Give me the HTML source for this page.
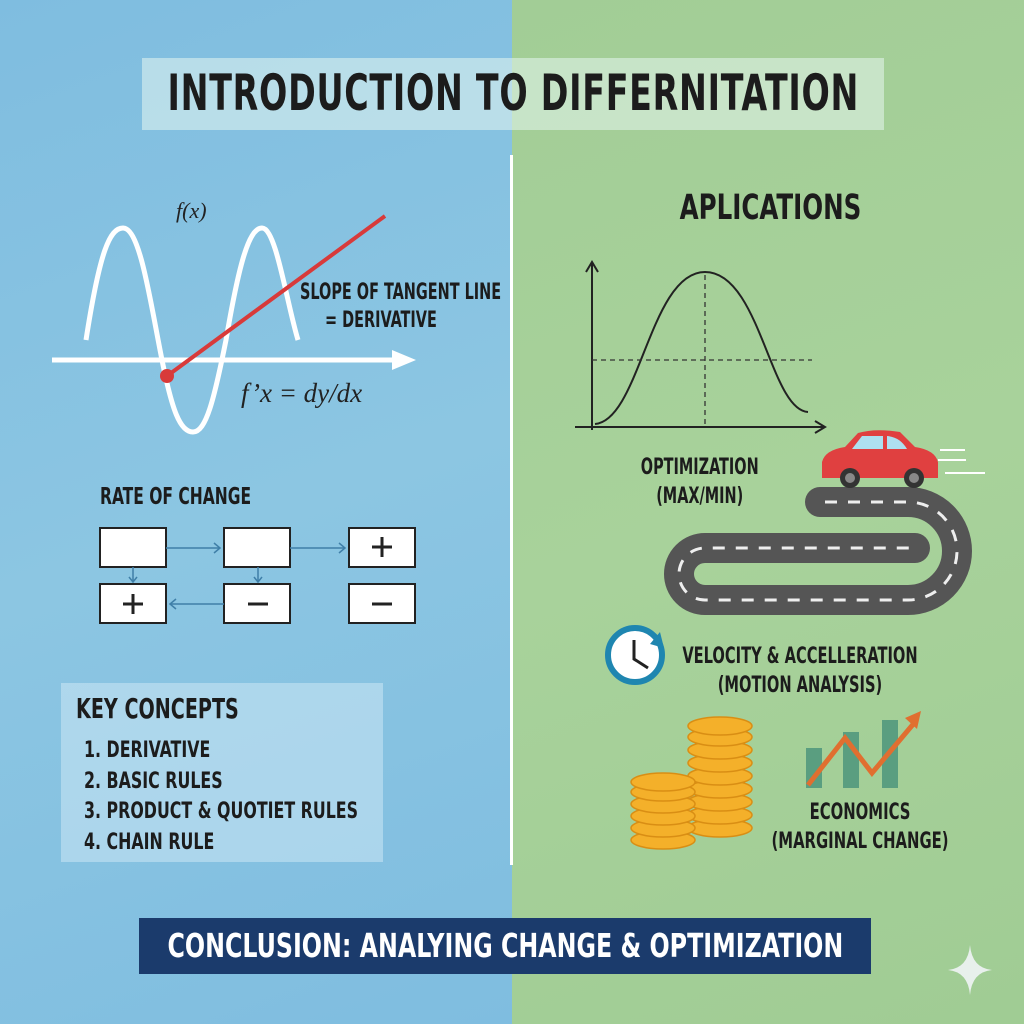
<!DOCTYPE html>
<html><head><meta charset="utf-8"><style>
body{margin:0;width:1024px;height:1024px;overflow:hidden;position:relative;font-family:"DejaVu Sans Condensed","DejaVu Sans",sans-serif;}
.t{position:absolute;font-weight:bold;color:#1c1c1c;white-space:nowrap;}
.s{display:inline-block;transform:scaleX(0.75);transform-origin:left center;}
.c{display:inline-block;transform:scaleX(0.75);transform-origin:center center;}
</style></head><body>
<div style="position:absolute;left:0;top:0;width:512px;height:1024px;background:linear-gradient(160deg,#7fbde0,#8cc6e2 50%,#7fbde0)"></div>
<div style="position:absolute;left:512px;top:0;width:512px;height:1024px;background:linear-gradient(160deg,#a2cd96,#a8d29b 50%,#a0cc94)"></div>
<div style="position:absolute;left:142px;top:58px;width:742px;height:72px;background:rgba(230,245,240,0.55)"></div>
<div class="t" style="left:-87px;top:64px;width:1200px;text-align:center;font-size:50px;letter-spacing:1px"><span class="c" style="transform:scaleX(0.74)">INTRODUCTION TO DIFFERNITATION</span></div>
<div style="position:absolute;left:510px;top:155px;width:3px;height:710px;background:#fff"></div>
<svg width="1024" height="1024" style="position:absolute;left:0;top:0">
<path d="M86 340 C100 250,110 228,123 228 C140 228,150 300,162 360 C172 410,180 432,193 432 C206 432,214 400,226 340 C238 270,248 228,262 228 C276 228,286 300,298 340" fill="none" stroke="#fff" stroke-width="5"/>
<line x1="52" y1="360" x2="395" y2="360" stroke="#fff" stroke-width="5"/>
<polygon points="392,350 416,360 392,370" fill="#fff"/>
<line x1="167" y1="376" x2="385" y2="216" stroke="#d83a3a" stroke-width="4"/>
<circle cx="167" cy="376" r="7" fill="#d83a3a"/>
<g fill="#fff" stroke="#222" stroke-width="2">
<rect x="100" y="528" width="66" height="39"/><rect x="224" y="528" width="66" height="39"/><rect x="349" y="528" width="66" height="39"/>
<rect x="100" y="584" width="66" height="39"/><rect x="224" y="584" width="66" height="39"/><rect x="349" y="584" width="66" height="39"/>
</g>
<g stroke="#222" stroke-width="3"><line x1="382" y1="537" x2="382" y2="557"/><line x1="372" y1="547" x2="392" y2="547"/>
<line x1="133" y1="594" x2="133" y2="614"/><line x1="123" y1="604" x2="143" y2="604"/>
<line x1="248" y1="604" x2="268" y2="604"/><line x1="372" y1="604" x2="392" y2="604"/></g>
<g stroke="#3f7fa8" stroke-width="1.5" fill="none">
<path d="M166 548 H220 M214 543 L220 548 L214 553"/><path d="M290 548 H345 M339 543 L345 548 L339 553"/>
<path d="M133 567 V582 M129 577 L133 582 L137 577"/><path d="M258 567 V582 M254 577 L258 582 L262 577"/>
<path d="M224 604 H170 M176 599 L170 604 L176 609"/></g>
<rect x="61" y="683" width="322" height="179" fill="rgba(220,240,250,0.45)"/>
<g stroke="#222" stroke-width="2" fill="none">
<path d="M592 430 V262 M586 272 L592 262 L598 272"/><path d="M575 427 H825 M815 421 L825 427 L815 433"/>
<path d="M595 424 C640 420,650 272,705 272 C760 272,770 410,808 412"/></g>
<g stroke="#333" stroke-width="1.3" stroke-dasharray="5,4"><line x1="592" y1="360" x2="812" y2="360"/><line x1="705" y1="275" x2="705" y2="427"/></g>
<path d="M820 502 H908 A49 49 0 0 1 908 600 H705 A26 26 0 0 1 705 548 H915" fill="none" stroke="#555" stroke-width="30" stroke-linecap="round"/>
<path d="M825 502 H908 A49 49 0 0 1 908 600 H705 A26 26 0 0 1 705 548 H910" fill="none" stroke="#eee" stroke-width="3" stroke-dasharray="12,11"/>
<path d="M822 478 V462 Q825 450,845 447 L858 433 Q875 428,900 432 L915 447 Q935 450,938 462 V478 Z" fill="#e04040"/>
<path d="M862 436 H883 V449 H852 Z M887 436 Q900 437,907 449 H887 Z" fill="#aee0f0"/>
<circle cx="850" cy="478" r="10" fill="#333"/><circle cx="850" cy="478" r="5" fill="#888"/>
<circle cx="914" cy="478" r="10" fill="#333"/><circle cx="914" cy="478" r="5" fill="#888"/>
<g stroke="#fff" stroke-width="2"><line x1="940" y1="450" x2="965" y2="450"/><line x1="938" y1="460" x2="966" y2="460"/><line x1="945" y1="473" x2="985" y2="473"/></g>
<circle cx="635" cy="655" r="27" fill="#fff" stroke="#1f86b0" stroke-width="6"/>
<polygon points="660,632 664,648 650,644" fill="#1f86b0"/>
<path d="M634 640 V659 L648 668" stroke="#222" stroke-width="3" fill="none"/>
<g fill="#5a9e80"><rect x="806" y="748" width="16" height="40"/><rect x="843" y="732" width="16" height="56"/><rect x="882" y="720" width="16" height="68"/></g>
<polyline points="808,785 845,738 872,773 915,722" fill="none" stroke="#e06f30" stroke-width="5"/>
<polygon points="905,718 921,711 917,729" fill="#e06f30"/>
<g fill="#f4b02a" stroke="#d98e14" stroke-width="1.5">
<ellipse cx="720" cy="828" rx="32" ry="9"/><ellipse cx="720" cy="815" rx="32" ry="9"/><ellipse cx="720" cy="802" rx="32" ry="9"/><ellipse cx="720" cy="789" rx="32" ry="9"/><ellipse cx="720" cy="776" rx="32" ry="9"/><ellipse cx="720" cy="763" rx="32" ry="9"/><ellipse cx="720" cy="750" rx="32" ry="9"/><ellipse cx="720" cy="737" rx="32" ry="9"/><ellipse cx="720" cy="726" rx="32" ry="9"/>
<ellipse cx="663" cy="840" rx="32" ry="9"/><ellipse cx="663" cy="828" rx="32" ry="9"/><ellipse cx="663" cy="816" rx="32" ry="9"/><ellipse cx="663" cy="804" rx="32" ry="9"/><ellipse cx="663" cy="792" rx="32" ry="9"/><ellipse cx="663" cy="782" rx="32" ry="9"/>
</g>
<path d="M970 945 Q972 968,992 970 Q972 972,970 995 Q968 972,948 970 Q968 968,970 945Z" fill="#e8f0ec"/>
</svg>
<div style="position:absolute;left:176px;top:198px;font:italic 22px 'Liberation Serif',serif;color:#222">f(x)</div>
<div class="t" style="left:300px;top:280px;font-size:22px"><span class="s" style="transform:scaleX(0.73)">SLOPE OF TANGENT LINE</span></div>
<div class="t" style="left:325px;top:308px;font-size:22px"><span class="s" style="transform:scaleX(0.73)">= DERIVATIVE</span></div>
<div style="position:absolute;left:241px;top:378px;font:italic 27px 'Liberation Serif',serif;color:#222">f’x = dy/dx</div>
<div class="t" style="left:100px;top:484px;font-size:23px"><span class="s">RATE OF CHANGE</span></div>
<div class="t" style="left:76px;top:692px;font-size:28px"><span class="s" style="transform:scaleX(0.76)">KEY CONCEPTS</span></div>
<div class="t" style="left:84px;top:736px;font-size:22px;line-height:30.5px"><span class="s" style="transform:scaleX(0.8)">1. DERIVATIVE<br>2. BASIC RULES<br>3. PRODUCT &amp; QUOTIET RULES<br>4. CHAIN RULE</span></div>
<div class="t" style="left:470px;top:188px;width:600px;text-align:center;font-size:35px"><span class="c" style="transform:scaleX(0.78)">APLICATIONS</span></div>
<div class="t" style="left:400px;top:453px;width:600px;text-align:center;font-size:22px;line-height:29px"><span class="c" style="transform:scaleX(0.73)">OPTIMIZATION<br>(MAX/MIN)</span></div>
<div class="t" style="left:500px;top:642px;width:600px;text-align:center;font-size:22px;line-height:29px"><span class="c" style="transform:scaleX(0.74)">VELOCITY &amp; ACCELLERATION<br>(MOTION ANALYSIS)</span></div>
<div class="t" style="left:560px;top:798px;width:600px;text-align:center;font-size:22px;line-height:29px"><span class="c">ECONOMICS<br>(MARGINAL CHANGE)</span></div>
<div style="position:absolute;left:139px;top:918px;width:732px;height:56px;background:#1b3b6c"></div>
<div class="t" style="left:-95px;top:926px;width:1200px;text-align:center;font-size:33px;color:#fff"><span class="c" style="transform:scaleX(0.8)">CONCLUSION: ANALYING CHANGE &amp; OPTIMIZATION</span></div>
</body></html>
